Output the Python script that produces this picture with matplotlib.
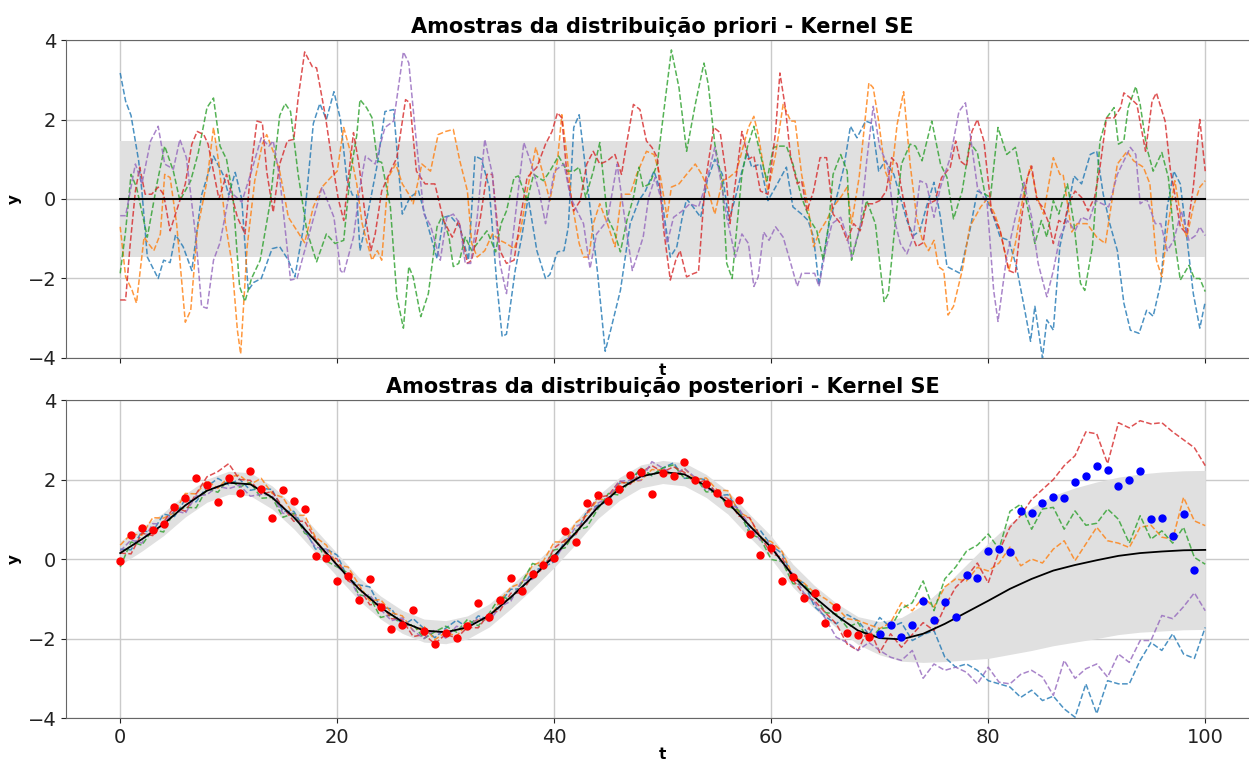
import matplotlib

matplotlib.use("Agg")
import matplotlib.pyplot as plt

plt.rcParams["font.family"] = ["DejaVu Sans"]

SAMPLE_COLOURS = ["tab:blue", "tab:orange", "tab:green", "tab:red", "tab:purple"]

# --- prior samples, (t, y) pairs along each drawn path ---
PRIOR_BAND = 1.45

PRIOR_BLUE = [
    (0, 3.17), (0.5, 2.46), (1, 2.1), (1.7, 0.96), (2, 0.2), (2.5, -1.46), (3.5, -2.0), (4, -1.54),
    (4.6, -1.6), (5.1, -0.9), (5.8, -1.2), (6.6, -1.8), (7.5, 0.1), (8.6, 1.08), (9.5, 0.6), (10, 0.1),
    (10.6, 0.67), (11.2, 0.0), (11.8, -2.3), (12.3, -2.1), (13, -2.0), (14, -1.25), (14.7, -1.2),
    (15.5, -1.54), (16.1, -1.96), (16.9, -0.7), (17.8, 1.9), (18.4, 2.4), (19, 2.0), (19.7, 2.7),
    (20.3, 2.0), (20.9, 0.46), (21.4, 0.1), (21.8, 0.1), (22.1, -1.3), (22.8, -0.4), (23.7, 0.88),
    (24.4, 2.2), (25.2, 2.25), (26, -0.38), (26.7, 0.04), (27.5, 0.2), (28.3, -0.62), (29.2, -1.5),
    (29.8, -0.46), (30.4, -0.42), (31.3, -0.7), (32.1, -1.54), (32.7, 1.08), (33.3, 1.0), (34, 0.3),
    (34.7, -2.1), (35.2, -3.46), (35.6, -3.4), (36.4, -1.8), (37, -0.96), (37.6, 0.04), (38.4, -1.3),
    (39.2, -2.0), (39.6, -1.9), (40.3, -1.33), (40.9, -1.3), (41.3, -0.7), (41.8, 1.8), (42.3, 2.12),
    (42.7, 1.2), (43.2, 0.04), (44, -1.87), (44.7, -3.83), (45.2, -3.3), (46.1, -2.3), (47, -0.62),
    (47.8, -0.04), (48.4, 0.2), (49.2, 0.7), (49.8, 0.2), (50.7, -1.46), (51.3, -1.2), (51.8, -0.46),
    (52.2, 0.0), (52.8, -0.2), (53.5, -0.46), (54.1, 0.46), (54.8, 1.0), (55.5, 0.62), (56.1, -0.54),
    (56.7, 0.04), (57.3, 0.7), (57.8, 1.17), (58.2, 0.8), (59, 0.88), (59.7, -0.04), (60.4, 0.3),
    (61.4, 0.8), (62, -0.2), (62.8, -0.38), (63.4, -0.54), (63.9, -0.96), (64.4, -2.17), (64.8, -1.46),
    (65.4, -0.54), (66.1, 0.12), (66.7, 0.8), (67.3, 1.83), (67.9, 1.54), (68.7, 1.96), (69.3, 1.9),
    (69.9, 0.7), (70.5, 0.96), (71.3, 0.62), (71.9, 0.04), (72.5, -0.54), (73.1, -0.92), (73.7, -0.8),
    (74.3, -0.2), (75, 0.42), (75.6, -0.46), (76.2, -1.7), (77.4, -1.87), (78.3, -0.8), (79, 0.2),
    (79.7, 0.12), (80.5, -0.46), (81.1, -0.96), (81.9, -1.04), (82.6, -1.7), (83.3, -2.7), (83.9, -3.58),
    (84.3, -2.7), (85, -4.0), (85.4, -3.04), (86, -3.3), (86.6, -1.2), (87.3, -0.3), (87.9, 0.58),
    (88.6, 0.38), (89.4, 1.12), (90, 1.2), (90.6, 0.12), (91.2, -0.62), (91.9, -1.3), (92.5, -2.62),
    (93.1, -3.3), (93.9, -3.38), (94.6, -2.8), (95.2, -2.95), (95.9, -2.12), (96.5, -0.2), (97.1, 0.7),
    (97.7, 0.38), (98.3, -0.96), (98.9, -2.38), (99.5, -3.25), (100, -2.58),
]

PRIOR_ORANGE = [
    (0, -0.7), (0.5, -1.96), (1.1, -2.3), (1.5, -2.62), (2.2, -0.96), (2.6, -1.12), (3.1, -1.3),
    (3.7, -0.88), (4.1, 0.62), (4.6, 0.54), (5.2, -0.62), (6, -3.1), (6.5, -2.8), (7.1, -0.8), (8, 0.46),
    (8.6, 1.8), (9.1, 0.88), (9.7, -0.62), (10.3, -1.62), (10.8, -3.3), (11.1, -3.9), (11.7, -1.2),
    (12.4, 0.46), (13.1, 1.38), (13.5, 1.62), (14.1, 1.2), (14.7, 0.7), (15.5, -0.46), (16.3, -0.8),
    (17, -1.1), (17.8, -0.2), (18.6, 0.3), (19.4, 0.54), (20, 0.7), (20.6, 1.8), (21.2, 1.2), (21.8, 0.38),
    (22.3, -0.62), (22.7, -1.04), (23.2, -1.54), (23.7, -1.3), (24.1, -1.54), (24.7, 0.54), (25.4, 0.88),
    (26, 0.38), (26.6, 0.12), (27, -0.12), (27.8, 0.88), (28.6, 0.7), (29.3, 1.62), (30, 1.7),
    (30.7, 1.75), (31.3, 0.96), (32, 0.2), (32.4, -1.12), (32.9, -1.46), (33.6, -1.3), (34.3, -0.88),
    (35, -1.04), (35.6, -1.12), (36.3, -1.25), (36.9, -0.8), (37.5, 0.2), (38.3, 1.3), (38.9, 0.7),
    (39.6, -0.04), (40.3, 0.96), (40.7, 2.12), (41.2, 1.04), (41.6, -0.04), (42.3, -1.12), (42.7, -1.46),
    (43.2, -1.46), (43.6, -0.62), (44.2, -0.12), (44.9, -0.62), (45.6, -1.2), (46.2, 0.12), (47, 0.12),
    (47.6, 0.62), (48.5, 1.2), (49.2, 1.12), (49.8, 0.54), (50.4, -0.46), (50.8, 0.3), (51.5, 0.38),
    (52.2, 0.62), (53, 0.88), (53.6, 0.62), (54.1, 0.3), (54.8, -0.38), (55.5, 0.46), (56.1, 0.54),
    (56.8, 0.7), (57.4, 1.3), (57.9, 1.8), (58.4, 2.08), (58.8, 1.62), (59.3, 0.8), (59.7, 0.2),
    (60.4, 1.12), (61.1, 2.38), (61.8, 1.96), (62.2, 1.96), (62.8, 0.62), (63.4, -0.2), (63.9, -1.2),
    (64.5, -0.8), (65.1, -0.54), (65.7, -0.2), (66.4, 0.04), (67, 0.3), (67.4, -0.62), (68.1, 0.54),
    (68.7, 2.12), (69, 2.92), (69.4, 2.8), (69.9, 1.96), (70.5, 0.7), (71, 0.38), (71.6, 1.87),
    (72.2, 2.7), (72.8, 0.88), (73.4, -0.46), (73.9, -1.0), (74.5, -1.3), (75, -1.04), (75.4, -1.7),
    (75.9, -1.8), (76.3, -2.92), (76.8, -2.7), (77.6, -1.8), (78.3, -0.7), (79.3, -0.2), (79.9, 0.0),
    (80.6, -0.38), (81.1, -0.8), (81.9, -1.8), (82.5, -1.12), (83.3, 0.2), (83.9, 0.83), (84.5, 0.04),
    (85.1, -0.38), (86, 1.04), (86.6, 0.62), (86.9, 0.62), (87.7, -0.83), (88.2, -0.62), (89.1, -0.62),
    (90, -0.96), (90.8, -1.12), (91.4, -0.04), (91.9, 0.88), (92.8, 1.2), (93.4, 0.96), (94.3, 0.8),
    (94.9, 0.38), (95.5, -1.54), (96, -1.96), (96.5, -0.8), (97.2, 0.46), (97.8, -0.54), (98.3, -0.96),
    (98.9, -0.2), (99.5, 0.3), (100, 0.46),
]

PRIOR_GREEN = [
    (0, -1.87), (0.5, -0.8), (1, 0.62), (1.5, 0.3), (2.5, -0.96), (3.4, 0.4), (4.1, 1.33), (4.9, 0.7),
    (5.5, -0.04), (6.5, 0.46), (7.2, 1.17), (8, 2.3), (8.6, 2.54), (9.2, 1.33), (9.8, 1.0), (10.4, 0.04),
    (11, -2.2), (11.5, -2.58), (12.1, -2.0), (12.9, -1.54), (13.8, -0.12), (14.7, 2.1), (15.2, 2.4),
    (15.7, 2.2), (16.4, 0.62), (17.2, -0.8), (18.1, -1.58), (19, -0.88), (19.8, -1.12), (20.6, -1.04),
    (21.2, 0.62), (21.8, 1.6), (22.1, 2.5), (22.7, 2.3), (23.2, 2.05), (23.7, 0.96), (24.1, 0.92),
    (24.9, -0.2), (25.5, -2.46), (26.1, -3.25), (26.6, -1.7), (27, -1.96), (27.7, -2.96), (28.4, -2.38),
    (29.2, -0.7), (29.7, -0.42), (30.3, -0.96), (30.7, -1.7), (31.2, -1.62), (31.8, -0.96), (32.4, -1.3),
    (32.9, -1.12), (33.8, -0.8), (34.6, -1.33), (35.1, -0.62), (35.6, -0.3), (36.3, 0.54), (36.7, 0.58),
    (37.5, -0.04), (38.1, 0.62), (39, 0.46), (39.6, 0.7), (40.4, 1.08), (41.2, 0.7), (41.8, 0.7),
    (42.3, 0.8), (42.9, 0.04), (43.6, 0.7), (44.2, 1.42), (44.9, -0.46), (45.5, -0.8), (46.1, -1.33),
    (46.7, -0.54), (47.3, 0.04), (47.8, 0.8), (48.2, 0.3), (48.8, 0.38), (49.5, 0.88), (50.1, 2.2),
    (50.8, 3.75), (51.5, 2.8), (52.2, 1.2), (53, 2.38), (53.8, 3.42), (54.2, 2.88), (54.8, 1.38),
    (55.5, 0.38), (55.9, -1.62), (56.4, -2.0), (56.8, -0.8), (57.3, 0.62), (57.8, 1.3), (58.4, 1.83),
    (59, 1.12), (59.6, 0.46), (60.2, 1.3), (60.8, 1.33), (61.4, 1.33), (62, 0.88), (62.8, 0.04),
    (63.6, -0.54), (64.2, -0.8), (64.8, -1.54), (65.3, -0.62), (65.7, 0.62), (66.4, 1.12), (67, 0.7),
    (67.4, -1.54), (68.1, -0.8), (68.8, -0.04), (69.6, -0.62), (70.4, -2.58), (70.8, -2.38), (71.3, -0.96),
    (72, 0.88), (72.8, 1.38), (73.3, 1.33), (73.9, 0.96), (74.8, 1.96), (75.6, 0.88), (76.2, 0.54),
    (76.8, -0.5), (77.6, 0.2), (78.3, 1.42), (79, 1.17), (79.7, 0.12), (80.2, 0.04), (80.9, 1.8),
    (81.7, 1.12), (82.5, 1.3), (83.1, 0.46), (83.7, -0.3), (84.3, -1.12), (84.9, -0.54), (85.4, -0.96),
    (86, -0.04), (86.5, -0.38), (87.3, 0.38), (87.9, -0.62), (88.5, -2.12), (88.9, -2.3), (89.6, -1.2),
    (90.3, 1.46), (90.9, 2.04), (91.6, 2.3), (92, 1.38), (92.5, 1.46), (92.9, 2.3), (93.6, 2.83),
    (94, 2.38), (94.6, 1.3), (95.2, 0.7), (96, 1.17), (96.6, 0.54), (97.1, -0.88), (97.7, -2.04),
    (98.5, -1.67), (99, -2.0), (99.5, -2.0), (100, -2.33),
]

PRIOR_RED = [
    (0, -2.54), (0.5, -2.54), (0.9, -1.2), (1.4, 0.2), (1.8, 0.8), (2.3, 0.12), (2.9, 0.12), (3.5, 0.3),
    (4, 0.12), (4.6, -0.8), (5.4, -0.12), (6, 0.38), (6.6, 1.38), (7.1, 1.7), (7.7, 1.62), (8.1, 1.38),
    (9.1, 0.0), (9.8, 0.62), (10.8, -0.46), (11.5, -0.88), (12, 0.62), (12.6, 1.96), (13.1, 1.92),
    (13.5, 0.7), (14.1, -0.33), (14.7, 0.88), (15.4, 1.46), (16, 1.5), (16.4, 2.54), (17, 3.7),
    (17.7, 3.33), (18.1, 3.3), (18.9, 2.1), (19.5, 1.0), (20.1, 0.0), (20.6, -0.54), (21, 0.46),
    (21.5, 1.67), (22, 0.88), (22.6, -0.46), (23.1, -1.3), (23.5, -0.88), (24.1, 0.2), (24.9, 0.7),
    (25.5, 1.04), (26.3, 2.5), (26.7, 2.42), (27.3, 0.7), (28.1, 0.38), (29, 0.38), (29.8, -0.54),
    (30.6, -0.96), (31.2, -0.54), (32, -1.62), (32.4, -1.54), (33.2, -0.46), (33.8, 0.62), (34.3, 0.62),
    (35, -1.3), (35.6, -1.62), (36.3, -1.54), (36.9, -0.46), (37.5, 0.54), (38.4, 0.8), (39.2, 1.38),
    (39.8, 1.7), (40.3, 2.17), (40.7, 2.04), (41.2, 0.54), (41.8, -0.3), (42.4, -0.04), (43, 0.88),
    (43.6, 1.2), (44.2, 0.88), (44.9, 0.96), (45.6, 1.12), (46.2, 0.62), (46.5, 1.12), (47.3, 2.38),
    (47.9, 2.25), (48.5, 1.46), (49, 1.3), (49.5, 1.04), (50.1, -0.8), (50.7, -2.04), (51.2, -1.54),
    (51.6, -1.3), (52.2, -1.96), (52.8, -1.88), (53.3, -1.83), (53.9, 0.38), (54.7, 1.8), (55.3, 1.67),
    (55.8, 0.7), (56.2, -0.62), (56.8, 0.62), (57.3, 1.7), (57.9, 1.0), (58.4, 1.08), (59, 0.2),
    (59.7, 0.12), (60.4, 1.7), (60.8, 3.17), (61.3, 2.3), (61.8, 1.04), (62.4, 0.38), (62.8, 0.46),
    (63.3, -0.3), (63.9, 0.2), (64.5, 1.04), (65.1, 1.04), (65.7, -0.38), (66.4, -0.62), (67, -1.04),
    (67.6, -0.62), (68.2, -0.8), (68.8, -0.12), (69.4, -0.12), (70, -0.04), (70.6, 0.2), (71.1, 1.04),
    (71.6, 0.88), (72.2, -0.04), (72.8, -0.8), (73.4, -1.2), (74, -1.1), (74.5, -0.12), (75.1, -0.04),
    (75.7, 0.54), (76.5, 0.8), (77, 1.46), (77.4, 0.96), (78, 0.83), (78.5, 1.7), (79, 2.0), (79.6, 1.46),
    (80.3, -0.3), (81.1, -0.8), (81.9, -1.8), (82.5, -1.87), (83, -0.62), (83.6, 0.54), (84, 0.83),
    (84.5, -0.04), (85, -0.2), (85.6, -0.62), (86, -1.12), (86.5, -0.54), (87, -0.62), (87.4, -0.12),
    (88, 0.2), (88.6, 0.04), (89.2, -0.3), (89.8, 0.04), (90.3, 0.8), (90.9, 2.04), (91.6, 2.04),
    (92.2, 2.3), (92.5, 2.67), (93.1, 2.54), (93.7, 2.38), (94.5, 1.2), (95.1, 2.46), (95.5, 2.67),
    (96.3, 1.96), (96.8, 0.7), (97.2, 0.12), (97.7, -0.7), (98.3, -0.88), (98.9, 0.3), (99.5, 2.0),
    (100, 0.7),
]

PRIOR_PURPLE = [
    (0, -0.42), (0.5, -0.42), (1.4, 0.88), (2, 0.38), (2.8, 1.46), (3.5, 1.83), (4.1, 0.88), (4.9, 0.75),
    (5.5, 1.5), (6.1, 1.04), (7, -1.04), (7.5, -2.7), (8, -2.75), (8.6, -1.54), (9.2, -1.1), (10.1, 0.2),
    (11.2, -0.08), (12.1, 0.7), (13, 1.54), (13.7, 1.33), (14.1, 1.46), (14.7, 0.54), (15.7, -2.04),
    (16.3, -2.0), (17.2, -1.1), (18.6, 0.3), (19.7, -0.46), (20.3, -1.8), (20.6, -1.87), (21.5, -0.96),
    (22.1, 0.3), (22.6, 1.08), (23.5, 0.88), (24.4, 1.8), (25.2, 1.96), (26.1, 3.7), (26.6, 3.42),
    (27.2, 1.7), (28, -0.38), (28.6, -0.67), (29.5, -1.54), (30.1, -0.46), (30.7, -0.38), (31.3, -0.62),
    (31.8, -1.62), (32.3, -1.62), (32.9, -0.46), (33.6, 1.5), (34.3, 0.62), (35, -1.62), (35.6, -2.38),
    (36.4, -0.46), (37.2, 1.42), (37.8, 0.96), (38.6, 0.2), (39.2, -0.62), (40, 0.7), (40.9, 0.88),
    (41.5, 0.04), (42.1, -0.3), (42.7, -0.62), (43.3, -1.75), (43.9, -0.88), (44.9, -0.54), (45.8, 0.88),
    (46.4, -0.3), (47.2, -1.8), (47.8, -1.3), (48.2, -0.96), (48.7, 0.04), (49.3, 0.54), (49.8, 0.04),
    (50.4, -1.12), (51, -0.46), (51.8, -0.3), (52.5, -0.12), (53.3, -0.2), (53.9, 0.3), (54.8, 1.3),
    (55.3, 0.54), (55.9, -0.46), (56.7, -1.46), (57.3, -0.88), (57.9, -1.12), (58.4, -2.2), (58.8, -1.96),
    (59.3, -0.83), (59.8, -1.04), (60.4, -0.7), (61.1, -0.96), (61.8, -1.62), (62.4, -2.2), (62.8, -1.87),
    (63.6, -1.87), (64, -1.87), (64.4, -2.2), (65, -1.3), (65.6, -0.62), (66.4, -0.46), (67, -0.96),
    (67.4, -1.46), (68.2, -0.7), (68.8, 0.96), (69.4, 2.33), (70, 1.3), (70.7, 0.88), (71.3, -0.46),
    (71.9, -1.12), (72.5, -1.38), (73.1, -0.96), (73.7, 0.46), (74.3, 0.38), (75, -0.46), (75.6, 0.3),
    (76.5, 1.04), (77.3, 2.2), (77.9, 2.42), (78.3, 1.7), (79, 0.3), (79.9, -0.12), (80.5, -2.3),
    (80.9, -3.08), (81.7, -1.46), (82.5, -0.46), (83.3, 0.42), (84, -0.46), (84.6, -1.62), (85.4, -2.46),
    (86, -1.8), (86.6, -0.96), (87.3, -0.54), (88, -0.8), (88.6, -0.46), (89.3, -0.54), (89.9, -0.04),
    (90.5, -0.12), (91.1, -0.2), (91.9, 0.62), (92.5, 0.96), (93.1, 1.3), (93.6, 1.12), (94, -0.12),
    (94.6, 0.0), (95.4, -0.62), (95.9, -0.62), (96.5, -1.3), (97.1, -1.04), (97.8, -0.3), (98.5, -1.04),
    (99.1, -0.92), (99.5, -0.7), (100, -0.92),
]

# --- posterior: observations, mean / std on a 2-step grid, samples on a 1-step grid ---
TRAIN_Y = [
    -0.04, 0.60, 0.77, 0.73, 0.88, 1.31, 1.53, 2.05, 1.86, 1.44,
    2.05, 1.65, 2.21, 1.77, 1.03, 1.73, 1.46, 1.26, 0.07, 0.03,
    -0.56, -0.42, -1.04, -0.50, -1.20, -1.75, -1.67, -1.28, -1.80, -2.15,
    -1.86, -1.99, -1.69, -1.10, -1.47, -1.04, -0.47, -0.81, -0.38, -0.14,
    0.03, 0.71, 0.42, 1.40, 1.62, 1.46, 1.77, 2.12, 2.18, 1.63,
    2.17, 2.08, 2.45, 1.99, 1.88, 1.66, 1.40, 1.49, 0.64, 0.10,
    0.29, -0.54, -0.44, -0.98, -0.86, -1.62, -1.21, -1.85, -1.91, -1.97,
]
TEST_Y = [
    -1.88, -1.67, -1.96, -1.67, -1.06, -1.54, -1.09, -1.45, -0.41, -0.47,
    0.20, 0.26, 0.18, 1.22, 1.16, 1.42, 1.55, 1.53, 1.94, 2.09,
    2.34, 2.25, 1.85, 1.99, 2.21, 1.00, 1.02, 0.58, 1.13, -0.28,
]

POST_MEAN = [
    0.15, 0.5, 0.88, 1.35, 1.72, 1.92, 1.88, 1.55, 1.05, 0.45,
    -0.15, -0.75, -1.22, -1.58, -1.8, -1.84, -1.72, -1.42, -0.96, -0.46,
    0.08, 0.67, 1.3, 1.76, 2.08, 2.19, 2.13, 1.84, 1.42, 0.84,
    0.29, -0.42, -0.96, -1.42, -1.8, -1.99, -2.02, -1.88, -1.63, -1.34,
    -1.05, -0.75, -0.5, -0.29, -0.15, -0.03, 0.08, 0.15, 0.19, 0.22,
    0.23,
]
POST_STD = [
    0.30, 0.30, 0.29, 0.29, 0.29, 0.29, 0.29, 0.29, 0.29, 0.29,
    0.29, 0.29, 0.29, 0.29, 0.29, 0.29, 0.29, 0.29, 0.29, 0.29,
    0.29, 0.29, 0.29, 0.29, 0.29, 0.29, 0.29, 0.29, 0.29, 0.29,
    0.29, 0.29, 0.29, 0.31, 0.35, 0.42, 0.55, 0.72, 0.95, 1.20,
    1.45, 1.65, 1.80, 1.89, 1.94, 1.97, 1.98, 1.99, 2.00, 2.00,
    2.00,
]

POST_BLUE = [
    0.25, 0.23, 0.70, 0.69, 1.13, 1.07, 1.50, 1.44, 1.82, 2.03,
    1.87, 2.01, 1.73, 1.78, 1.75, 1.20, 1.20, 0.75, 0.25, 0.25,
    0.10, -0.50, -0.65, -0.70, -1.22, -1.25, -1.68, -1.50, -1.75, -1.98,
    -1.74, -1.54, -1.72, -1.43, -1.52, -1.10, -0.76, -0.75, -0.31, -0.20,
    -0.07, 0.48, 0.62, 1.20, 1.35, 1.45, 1.91, 1.93, 2.28, 2.10,
    2.29, 2.42, 2.03, 2.05, 1.99, 1.59, 1.62, 1.23, 0.74, 0.72,
    0.34, 0.14, -0.47, -0.60, -1.20, -1.45, -1.63, -1.40, -1.55, -1.90,
    -1.47, -1.72, -1.60, -2.05, -1.90, -1.80, -2.47, -2.72, -2.64, -2.80,
    -3.06, -3.14, -3.22, -3.48, -3.30, -3.56, -3.45, -3.77, -3.98, -3.14,
    -3.89, -3.06, -3.14, -3.14, -2.55, -2.10, -2.30, -1.88, -2.39, -2.50,
    -1.72,
]
POST_ORANGE = [
    0.35, 0.63, 0.60, 1.04, 1.03, 1.17, 1.65, 1.64, 1.97, 1.78,
    2.07, 2.11, 1.88, 2.03, 1.65, 1.55, 1.10, 1.10, 0.55, 0.35,
    -0.15, -0.20, -0.65, -1.05, -1.02, -1.35, -1.43, -1.80, -1.70, -2.03,
    -1.84, -1.94, -1.62, -1.53, -1.52, -1.05, -0.71, -0.60, -0.16, -0.05,
    0.43, 0.43, 0.92, 1.10, 1.50, 1.50, 1.91, 1.93, 1.98, 2.25,
    2.24, 2.07, 2.28, 2.00, 2.04, 1.74, 1.72, 1.18, 1.04, 0.52,
    0.44, 0.19, -0.42, -0.60, -0.85, -1.00, -1.21, -1.50, -1.55, -1.65,
    -1.75, -1.60, -1.10, -1.30, -0.96, -1.21, -0.70, -0.50, -0.55, -0.21,
    -0.30, -0.10, 0.30, -0.17, 0.00, -0.10, 0.25, 0.46, -0.04, 0.38,
    0.80, 0.46, 0.40, 0.29, 0.80, 0.85, 0.55, 0.50, 1.55, 0.96,
    0.84,
]
POST_GREEN = [
    -0.20, 0.43, 0.35, 0.74, 0.68, 1.22, 1.30, 1.29, 1.77, 1.68,
    2.02, 1.81, 1.93, 1.53, 1.55, 1.05, 1.15, 0.65, 0.50, -0.05,
    -0.20, -0.35, -0.90, -0.95, -1.47, -1.40, -1.68, -1.65, -2.00, -1.83,
    -1.69, -1.84, -1.52, -1.68, -1.37, -0.95, -1.01, -0.60, -0.11, -0.20,
    0.23, 0.28, 0.72, 0.80, 1.25, 1.65, 1.61, 1.98, 2.28, 2.10,
    2.29, 2.37, 2.03, 2.05, 1.69, 1.69, 1.32, 1.23, 0.64, 0.52,
    -0.01, -0.06, -0.62, -0.65, -0.90, -1.35, -1.38, -1.72, -1.60, -2.05,
    -1.75, -1.72, -1.25, -1.10, -0.55, -1.30, -0.50, -0.20, 0.20, 0.35,
    0.63, 0.25, 1.20, 1.38, 0.75, 1.26, 1.30, 0.75, 1.21, 0.85,
    0.90, 1.26, 1.00, 0.40, 1.09, 0.50, 0.71, 0.40, 0.80, 0.04,
    -0.13,
]
POST_RED = [
    0.15, 0.13, 0.65, 0.59, 0.93, 1.32, 1.20, 1.64, 2.07, 2.20,
    2.40, 2.00, 1.98, 1.63, 1.70, 1.30, 0.95, 0.95, 0.50, 0.10,
    0.00, -0.55, -0.70, -1.15, -1.12, -1.50, -1.53, -1.95, -1.90, -2.13,
    -1.89, -1.99, -1.72, -1.73, -1.37, -1.30, -0.86, -0.85, -0.41, -0.25,
    0.28, 0.48, 0.62, 1.15, 1.55, 1.60, 1.96, 1.88, 2.18, 2.35,
    2.19, 2.32, 2.18, 1.90, 1.99, 1.64, 1.52, 1.08, 1.04, 0.57,
    0.14, 0.04, -0.52, -0.90, -1.05, -1.35, -1.63, -2.14, -2.30, -1.72,
    -2.35, -1.88, -2.22, -1.90, -1.60, -1.80, -1.20, -0.71, -0.45, -0.10,
    -0.60, 0.20, 0.80, 1.10, 1.50, 1.75, 2.00, 2.35, 2.60, 3.20,
    3.15, 2.40, 3.43, 3.30, 3.48, 3.40, 3.43, 3.20, 3.00, 2.80,
    2.35,
]
POST_PURPLE = [
    0.20, 0.48, 0.40, 0.89, 0.88, 1.22, 1.15, 1.59, 1.62, 1.83,
    1.77, 1.86, 1.58, 1.63, 1.60, 1.15, 1.15, 0.70, 0.30, 0.25,
    -0.20, -0.40, -0.95, -0.90, -1.27, -1.55, -1.48, -1.80, -2.00, -1.78,
    -1.99, -1.69, -1.77, -1.48, -1.57, -1.20, -1.06, -0.55, -0.51, -0.10,
    -0.02, 0.38, 0.82, 0.95, 1.40, 1.55, 1.96, 1.98, 1.98, 2.45,
    2.29, 2.12, 2.28, 2.05, 1.74, 1.74, 1.37, 1.28, 0.84, 0.47,
    0.39, -0.11, -0.37, -0.85, -1.10, -1.50, -1.97, -2.10, -2.30, -2.10,
    -2.30, -2.47, -2.55, -2.30, -3.00, -2.64, -2.80, -2.72, -2.85, -3.14,
    -2.72, -3.10, -3.14, -2.90, -2.80, -2.97, -3.43, -2.55, -3.00, -2.76,
    -2.64, -2.97, -2.39, -2.60, -2.05, -2.05, -1.42, -1.50, -1.20, -0.85,
    -1.30,
]

TRAIN_T = list(range(len(TRAIN_Y)))
TEST_T = list(range(len(TRAIN_Y), len(TRAIN_Y) + len(TEST_Y)))
MEAN_T = list(range(0, 101, 2))
SAMPLE_T = list(range(0, 101))


def style_axis(axis, title):
    axis.set_xlim(-5, 105)
    axis.set_ylim(-4, 4)
    axis.set_xticks([0, 20, 40, 60, 80, 100])
    axis.set_yticks([-4, -2, 0, 2, 4])
    axis.grid(True, color="#cacaca", linewidth=1)
    axis.set_axisbelow(True)
    axis.set_title(title, fontsize=15, fontweight="bold", pad=5)
    axis.set_xlabel("t", fontsize=11, fontweight="bold", labelpad=0)
    axis.set_ylabel("y", fontsize=11, fontweight="bold")
    axis.yaxis.set_label_coords(-0.037, 0.5)
    axis.tick_params(labelsize=14, colors="#222222")
    for spine in axis.spines.values():
        spine.set_color("#666666")


fig = plt.figure(figsize=(12.49, 7.62), dpi=100)
ax_prior = fig.add_axes([0.0528, 0.5302, 0.9556, 0.4173])
ax_post = fig.add_axes([0.0528, 0.0577, 0.9556, 0.4173], sharex=ax_prior)

# prior
ax_prior.fill_between([0, 100], [-PRIOR_BAND, -PRIOR_BAND], [PRIOR_BAND, PRIOR_BAND],
                      color="#e0e0e0", linewidth=0)
for colour, points in zip(SAMPLE_COLOURS,
                          [PRIOR_BLUE, PRIOR_ORANGE, PRIOR_GREEN, PRIOR_RED, PRIOR_PURPLE]):
    t, y = zip(*points)
    ax_prior.plot(t, y, "--", color=colour, linewidth=1.1, alpha=0.8)
ax_prior.plot([0, 100], [0, 0], color="black", linewidth=1.5)
style_axis(ax_prior, "Amostras da distribuição priori - Kernel SE")
ax_prior.tick_params(labelbottom=False)

# posterior
lower = [m - s for m, s in zip(POST_MEAN, POST_STD)]
upper = [m + s for m, s in zip(POST_MEAN, POST_STD)]
ax_post.fill_between(MEAN_T, lower, upper, color="#e0e0e0", linewidth=0)
for colour, values in zip(SAMPLE_COLOURS,
                          [POST_BLUE, POST_ORANGE, POST_GREEN, POST_RED, POST_PURPLE]):
    ax_post.plot(SAMPLE_T, values, "--", color=colour, linewidth=1.1, alpha=0.8)
ax_post.plot(MEAN_T, POST_MEAN, color="black", linewidth=1.3)
ax_post.plot(TRAIN_T, TRAIN_Y, "o", color="red", markersize=5)
ax_post.plot(TEST_T, TEST_Y, "o", color="blue", markersize=5)
style_axis(ax_post, "Amostras da distribuição posteriori - Kernel SE")

fig.savefig("out.png", dpi=100)
plt.close(fig)
